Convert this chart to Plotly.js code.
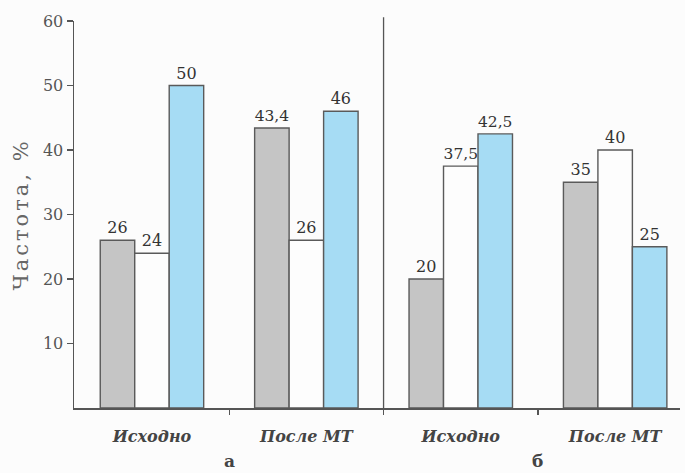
<!DOCTYPE html>
<html>
<head>
<meta charset="utf-8">
<script src="https://cdn.plot.ly/plotly-3.0.1.min.js"></script>
<style>html,body{margin:0;padding:0;background:#fcfcfc;}#chart{width:685px;height:473px;}
.ytitle{letter-spacing:3px;}</style>
</head>
<body>
<div id="chart"></div>
<script>
// Data
var groupLabels = ["Исходно", "После МТ", "Исходно", "После МТ"];
var panelLabels = ["а", "б"];
var seriesGray  = [26, 43.4, 20, 35];
var seriesWhite = [24, 26, 37.5, 40];
var seriesBlue  = [50, 46, 42.5, 25];
var yTicks = [10, 20, 30, 40, 50, 60];

var xs = groupLabels.map(function(_, i){ return i; });
var serif = "'DejaVu Serif', 'Liberation Serif', serif";

function barTrace(vals, color) {
  return {
    type: "bar", x: xs, y: vals,
    marker: {color: color, line: {color: "#5a5a5a", width: 1.4}},
    text: vals.map(function(v){ return String(v).replace(".", ","); }),
    textposition: "outside", cliponaxis: false,
    textfont: {family: serif, size: 16, color: "#333"},
    hoverinfo: "skip", showlegend: false
  };
}

var data = [
  barTrace(seriesGray, "#c5c5c5"),
  barTrace(seriesWhite, "#fdfdfd"),
  barTrace(seriesBlue, "#a6dcf4"),
  // invisible trace to carry the secondary x-axis tick marks
  {type: "scatter", x: [0.5, 1.5, 2.5], y: [0, 0, 0], xaxis: "x2", mode: "markers",
   marker: {opacity: 0}, hoverinfo: "skip", showlegend: false}
];

var xRange = [-0.505, 3.42];
var layout = {
  width: 685, height: 473,
  margin: {l: 74, r: 5, t: 21, b: 65},
  paper_bgcolor: "#fcfcfc", plot_bgcolor: "#fcfcfc",
  barmode: "group", bargap: 0.33, bargroupgap: 0,
  xaxis: {
    range: xRange, tickmode: "array", tickvals: xs, ticktext: groupLabels,
    ticks: "", showline: true, linecolor: "#555", linewidth: 1.5, showgrid: false, zeroline: false,
    tickfont: {family: serif, size: 16, color: "#444", weight: "bold", style: "italic"},
    ticklabelstandoff: 13
  },
  xaxis2: {
    overlaying: "x", matches: "x", range: xRange, tickmode: "array", tickvals: [0.5, 1.5, 2.5],
    showticklabels: false, ticks: "outside", ticklen: 6, tickcolor: "#555", tickwidth: 1.3,
    showline: false, showgrid: false, zeroline: false, anchor: "y", side: "bottom"
  },
  yaxis: {
    range: [0, 60], tickmode: "array", tickvals: yTicks,
    ticks: "outside", ticklen: 6, tickcolor: "#555", tickwidth: 1.3,
    showline: true, linecolor: "#555", linewidth: 1.5, showgrid: false, zeroline: false,
    tickfont: {family: serif, size: 16, color: "#555"},
    title: {text: "Частота, %", font: {family: serif, size: 21, color: "#666"}, standoff: 8}
  },
  shapes: [
    {type: "line", xref: "x", yref: "paper", x0: 1.5, x1: 1.5, y0: 0, y1: 1.01,
     line: {color: "#555", width: 1.3}}
  ],
  annotations: [
    {xref: "x", yref: "paper", x: 0.5, y: -0.105, yanchor: "top", text: panelLabels[0], showarrow: false,
     font: {family: serif, size: 17, color: "#444", weight: "bold"}},
    {xref: "x", yref: "paper", x: 2.5, y: -0.105, yanchor: "top", text: panelLabels[1], showarrow: false,
     font: {family: serif, size: 17, color: "#444", weight: "bold"}}
  ]
};

Plotly.newPlot("chart", data, layout, {staticPlot: true});
</script>
</body>
</html>
